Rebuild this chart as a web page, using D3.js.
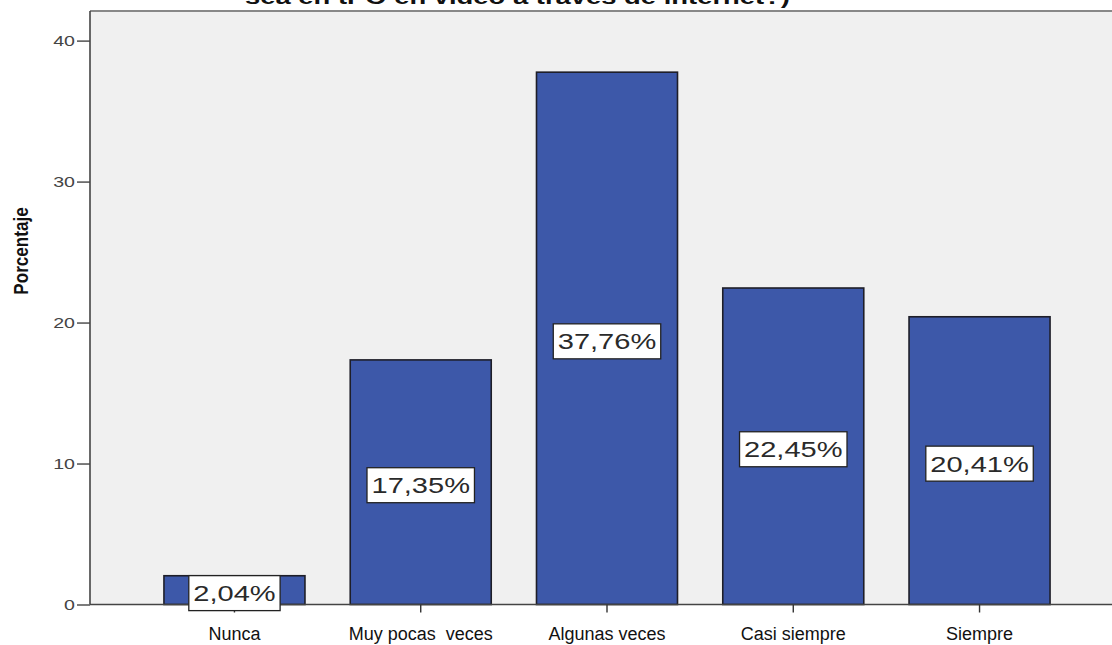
<!DOCTYPE html>
<html><head><meta charset="utf-8">
<script src="https://cdn.jsdelivr.net/npm/d3@7"></script>
<style>body{margin:0;background:#fff;}svg{display:block;}</style>
</head><body>
<svg id="chart" width="1112" height="645"></svg>
<script>
const categories = ["Nunca", "Muy pocas  veces", "Algunas veces", "Casi siempre", "Siempre"];
const values = [2.04, 17.35, 37.76, 22.45, 20.41];
const valueLabels = ["2,04%", "17,35%", "37,76%", "22,45%", "20,41%"];
const yTicks = [0, 10, 20, 30, 40];
const titleText = "sea en tPO en video a través de internet?)";
const yTitle = "Porcentaje";

const svg = d3.select("#chart");
const mLeft = 90, mRight = 1124, mTop = 11, mBottom = 604.5;

const x = d3.scaleBand().domain(categories).range([mLeft, mRight]).paddingInner(0.243).paddingOuter(0.397);
const y = d3.scaleLinear().domain([0, 42.1]).range([mBottom, mTop]);

// title (cut off at top, as in the reference)
svg.append("text").attr("x", 245).attr("y", 4).attr("textLength", 545).attr("lengthAdjust", "spacingAndGlyphs")
  .style("font-family", "Liberation Sans, Arial, sans-serif").style("font-weight", "bold").style("font-size", "20px")
  .attr("fill", "#111").text(titleText);

// plot background
svg.append("rect").attr("x", mLeft).attr("y", mTop).attr("width", 1112 - mLeft).attr("height", mBottom - mTop).attr("fill", "#f0f0f0");
svg.append("line").attr("x1", mLeft).attr("x2", 1112).attr("y1", mTop).attr("y2", mTop).attr("stroke", "#888").attr("stroke-width", 2);

// bars
svg.selectAll("rect.bar").data(values).enter().append("rect").attr("class", "bar")
  .attr("x", (d, i) => x(categories[i])).attr("width", x.bandwidth())
  .attr("y", d => y(d)).attr("height", d => y(0) - y(d))
  .attr("fill", "#3d58a9").attr("stroke", "#1e1e28").attr("stroke-width", 1.6);

// y axis
const yAxis = svg.append("g").attr("transform", `translate(${mLeft},0)`)
  .call(d3.axisLeft(y).tickValues(yTicks).tickSize(13).tickPadding(2).tickFormat(d3.format("d")));
yAxis.select(".domain").attr("stroke", "#444").attr("stroke-width", 1.6).attr("d", `M0,${mTop}V${mBottom}`);
yAxis.selectAll(".tick line").attr("stroke", "#444").attr("stroke-width", 1.4);
yAxis.selectAll(".tick text").attr("fill", "#444").style("font-family", "Liberation Sans, Arial, sans-serif")
  .style("font-size", "14px").attr("dy", "0.36em")
  .each(function() {
    const t = d3.select(this);
    const xx = +t.attr("x");
    t.attr("x", null).attr("transform", `translate(${xx},0) scale(1.4,1)`);
  });

// x axis
const xAxis = svg.append("g").attr("transform", `translate(0,${mBottom})`)
  .call(d3.axisBottom(x).tickSize(8).tickPadding(15));
xAxis.select(".domain").attr("stroke", "#444").attr("stroke-width", 1.6).attr("d", `M${mLeft},0H1112`);
xAxis.selectAll(".tick line").attr("stroke", "#333").attr("stroke-width", 1.4);
xAxis.selectAll(".tick text").attr("fill", "#111").style("font-family", "Liberation Sans, Arial, sans-serif")
  .style("font-size", "18px").style("white-space", "pre").attr("xml:space", "preserve");

// y title
svg.append("text").attr("transform", `translate(28,251) rotate(-90) scale(0.95,1.15)`).attr("text-anchor", "middle")
  .style("font-family", "Liberation Sans, Arial, sans-serif").style("font-weight", "bold").style("font-size", "18px")
  .attr("fill", "#111").text(yTitle);

// value labels
const sx = 1.32;
const lab = svg.selectAll("g.lab").data(values).enter().append("g").attr("class", "lab");
lab.each(function(d, i) {
  const g = d3.select(this);
  const cx = x(categories[i]) + x.bandwidth() / 2;
  const cy = (y(d) + y(0)) / 2 + 3;
  const rect = g.append("rect");
  const t = g.append("text").attr("text-anchor", "middle")
    .attr("transform", `translate(${cx},${cy + 8}) scale(${sx},1)`)
    .style("font-family", "Liberation Sans, Arial, sans-serif").style("font-size", "22px")
    .attr("fill", "#2a2a2a").text(valueLabels[i]);
  const w = t.node().getComputedTextLength() * sx + 9;
  rect.attr("x", cx - w / 2).attr("y", cy - 17.5).attr("width", w).attr("height", 35)
    .attr("fill", "#fff").attr("stroke", "#222").attr("stroke-width", 1.3);
});
</script>
</body></html>
